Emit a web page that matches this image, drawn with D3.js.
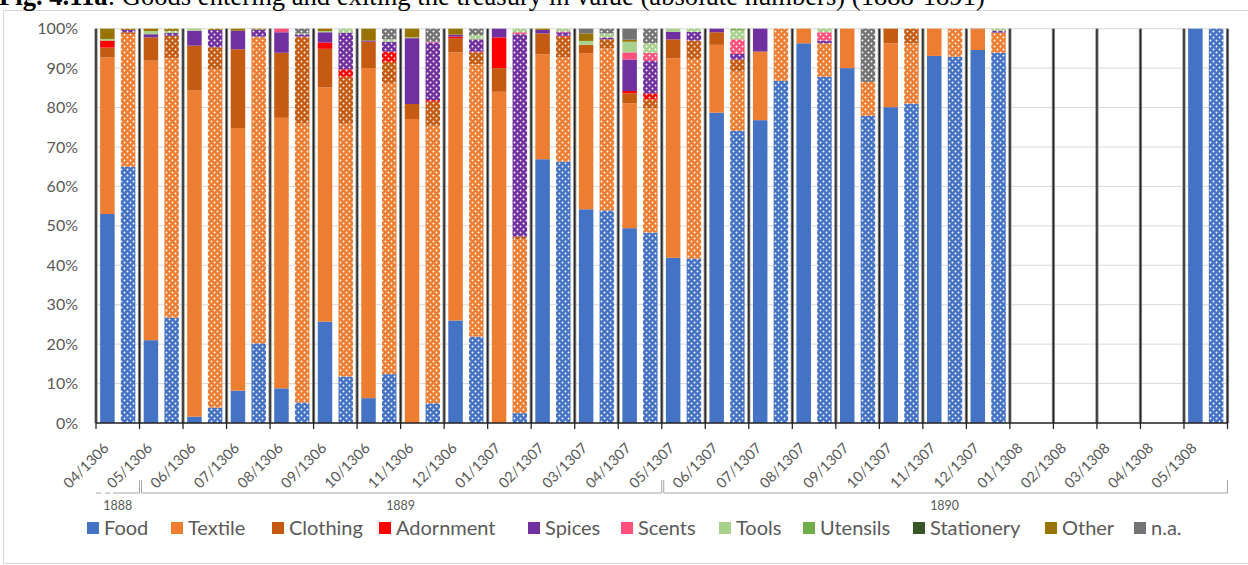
<!DOCTYPE html>
<html>
<head>
<meta charset="utf-8">
<script src="https://cdn.jsdelivr.net/npm/d3@7"></script>
<style>
  html, body { margin: 0; padding: 0; background: #fff; }
  svg { display: block; }
</style>
</head>
<body>
<div id="chart"></div>
<script>
// ---------------- DATA ----------------
const months = ["04/1306","05/1306","06/1306","07/1306","08/1306","09/1306","10/1306","11/1306","12/1306",
  "01/1307","02/1307","03/1307","04/1307","05/1307","06/1307","07/1307","08/1307","09/1307","10/1307","11/1307","12/1307",
  "01/1308","02/1308","03/1308","04/1308","05/1308"];
const kinds = ["entering", "exiting"];
const categories = ["Food","Textile","Clothing","Adornment","Spices","Scents","Tools","Utensils","Stationery","Other","n.a."];
const colors = ["#4472C4","#ED7D31","#C55A11","#FF0000","#7030A0","#FF4F7B","#A9D18E","#70AD47","#375623","#997300","#737373"];
const yTicks = [0,0.1,0.2,0.3,0.4,0.5,0.6,0.7,0.8,0.9,1];
const yearLabels = ["1888","1889","1890"];
const yearFrom = [0, 1, 13];
const yearTo = [1, 13, 26];

// [entering, exiting] share (%) per month
const food = [[53,65],[21,26.7],[1.6,3.9],[8.2,20.2],[8.8,5.2],[25.7,11.8],[6.3,12.4],[0,5],[26,21.9],[0,2.5],
  [66.9,66.3],[54.2,53.9],[49.4,48.3],[41.9,41.7],[78.7,74.1],[76.8,86.8],[96.3,87.8],[90,77.9],[80.1,81],[93.1,92.9],
  [94.6,93.9],[0,0],[0,0],[0,0],[0,0],[100,100]];
const textile = [[39.7,33.6],[70.9,65.8],[82.7,85.9],[66.6,77.6],[68.6,70.8],[59.4,64.1],[83.7,73.8],[77.1,70.4],[68,69.1],[84,44.1],
  [26.6,26.4],[39.6,41.1],[31.7,31.5],[50.6,50.5],[17.2,15],[17.4,13.2],[3.7,8.5],[10,8.6],[16.2,15.3],[6.9,7.1],
  [5.2,5.1],[0,0],[0,0],[0,0],[0,0],[0,0]];
const clothing = [[2.5,0.5],[5.9,5.7],[11.4,5.5],[20,0.2],[16.5,22],[9.8,11.9],[6.7,5.4],[3.8,6.1],[3.6,3],[6,0.7],
  [5.3,5.3],[2.1,2.3],[2.5,2.3],[4.8,4.8],[3.2,3.1],[0,0],[0,0],[0,0],[3.7,3.7],[0,0],
  [0.2,0],[0,0],[0,0],[0,0],[0,0],[0,0]];
const adornment = [[1.8,0],[0,0],[0,0],[0,0],[0,0],[1.6,1.9],[0,2.6],[0,0.4],[0.4,0.2],[7.8,0],
  [0,0.2],[0,0],[0.6,1.5],[0,0],[0,0],[0,0],[0,0],[0,0],[0,0],[0,0],
  [0,0],[0,0],[0,0],[0,0],[0,0],[0,0]];
const spices = [[0,0.6],[0.8,0.7],[3.8,4.4],[4.7,1.8],[5.2,0.6],[2.6,9.3],[0.3,2.5],[16.7,14.6],[0.5,3.1],[2.2,51.3],
  [0.9,0.9],[0,0.5],[8,8.2],[1.9,2.2],[0.9,1.4],[5.8,0],[0,0.7],[0,0],[0,0],[0,0],
  [0,0.5],[0,0],[0,0],[0,0],[0,0],[0,0]];
const scents = [[0,0],[0,0],[0,0],[0,0],[0.9,0],[0,0],[0,0],[0,0.2],[0,0],[0,0.5],
  [0,0.2],[0,0],[1.8,2.1],[0,0],[0,3.7],[0,0],[0,2.1],[0,0],[0,0],[0,0],
  [0,0],[0,0],[0,0],[0,0],[0,0],[0,0]];
const tools = [[0.4,0],[0.8,0.5],[0.5,0],[0,0],[0,0.2],[0.3,1.0],[0,0.6],[0.2,0],[0,1.1],[0,0.9],
  [0,0.7],[1.0,1.0],[2.7,2.4],[0.8,0.8],[0,2.2],[0,0],[0,0.9],[0,0],[0,0],[0,0],
  [0,0.5],[0,0],[0,0],[0,0],[0,0],[0,0]];
const utensils = [[0,0],[0,0],[0,0],[0,0],[0,0],[0,0],[0,0],[0,0],[0,0],[0,0],
  [0,0],[0,0],[0,0],[0,0],[0,0.5],[0,0],[0,0],[0,0],[0,0],[0,0],
  [0,0],[0,0],[0,0],[0,0],[0,0],[0,0]];
const stationery = [[0,0],[0,0],[0,0],[0,0],[0,0],[0,0],[0,0],[0,0],[0,0],[0,0],
  [0,0],[0,0],[0,0],[0,0],[0,0],[0,0],[0,0],[0,0],[0,0],[0,0],
  [0,0],[0,0],[0,0],[0,0],[0,0],[0,0]];
const other = [[2.6,0.3],[0.6,0.6],[0,0.3],[0.5,0.2],[0,0],[0.6,0],[3,0],[2.2,0],[1.5,0],[0,0],
  [0.3,0],[1.9,0],[0.5,0],[0,0],[0,0],[0,0],[0,0],[0,0],[0,0],[0,0],
  [0,0],[0,0],[0,0],[0,0],[0,0],[0,0]];
const na = [[0,0],[0,0],[0,0],[0,0],[0,1.2],[0,0],[0,2.7],[0,3.3],[0,1.6],[0,0],
  [0,0],[1.2,1.2],[2.8,3.7],[0,0],[0,0],[0,0],[0,0],[0,13.5],[0,0],[0,0],
  [0,0],[0,0],[0,0],[0,0],[0,0],[0,0]];
const seriesData = [food, textile, clothing, adornment, spices, scents, tools, utensils, stationery, other, na];

// ---------------- LAYOUT ----------------
const W = 1248, H = 565;
const plot = { left: 96, right: 1227.5, top: 28.7, bottom: 423 };
const legendX = [87, 171, 272, 379, 528, 621, 719, 803, 913, 1045, 1134];
const FONT = "Lato, 'Open Sans', 'Liberation Sans', sans-serif";
const TXT = "#595959";

const svg = d3.select("#chart").append("svg").attr("width", W).attr("height", H);
svg.append("rect").attr("width", W).attr("height", H).attr("fill", "#fff");

// frame
svg.append("path").attr("d", `M${W+2},10.5 H3.5 V563.5 H${W+2}`)
  .attr("fill", "none").attr("stroke", "#d6d6d6").attr("stroke-width", 1);

// title (cropped at top, as in the source page)
const title = svg.append("text").attr("x", -1).attr("y", 4.5)
  .attr("font-family", "'Liberation Serif', 'Times New Roman', serif").attr("font-size", 22).attr("fill", "#000");
title.append("tspan").attr("font-weight", "bold").text("Fig. 4.11a");
title.append("tspan").text(": Goods entering and exiting the treasury in value (absolute numbers) (1888-1891)");
{
  const w = title.node().getComputedTextLength();
  title.attr("font-size", 22 * 986 / w);
}

// patterns (white dots on the series colour for the exiting bars)
const defs = svg.append("defs");
colors.forEach((c, i) => {
  const p = defs.append("pattern").attr("id", "dots" + i).attr("patternUnits", "userSpaceOnUse")
    .attr("width", 6).attr("height", 6);
  p.append("rect").attr("width", 6).attr("height", 6).attr("fill", c);
  p.append("circle").attr("cx", 1.5).attr("cy", 1.5).attr("r", 0.95).attr("fill", "#fff");
  p.append("circle").attr("cx", 4.5).attr("cy", 4.5).attr("r", 0.95).attr("fill", "#fff");
});

// scales
const x = d3.scaleBand().domain(months).range([plot.left, plot.right]).padding(0);
const xIn = d3.scaleBand().domain(kinds).range([0, x.bandwidth()]).paddingInner(0.3).paddingOuter(0.2);
const y = d3.scaleLinear().domain([0, 1]).range([plot.bottom, plot.top]);

// gridlines
svg.append("g").selectAll("line").data(yTicks).join("line")
  .attr("x1", plot.left).attr("x2", plot.right)
  .attr("y1", d => y(d)).attr("y2", d => y(d))
  .attr("stroke", "#d9d9d9").attr("stroke-width", 1);

// y labels
svg.append("g").selectAll("text").data(yTicks).join("text")
  .attr("x", 78).attr("y", d => y(d)).attr("dy", "0.35em")
  .attr("text-anchor", "end").attr("font-family", FONT).attr("font-size", 16).attr("fill", TXT)
  .text(d => d3.format(".0%")(d));

// rows
const rows = [];
months.forEach((m, mi) => {
  kinds.forEach((k, ki) => {
    const r = { month: m, kind: k };
    categories.forEach((c, ci) => { r[c] = seriesData[ci][mi][ki]; });
    rows.push(r);
  });
});
const stacked = d3.stack().keys(categories).offset(d3.stackOffsetExpand)(rows);

const barsG = svg.append("g");
stacked.forEach((layer, li) => {
  barsG.append("g").selectAll("rect").data(layer).join("rect")
    .attr("x", d => x(d.data.month) + xIn(d.data.kind))
    .attr("width", xIn.bandwidth())
    .attr("y", d => y(d[1]))
    .attr("height", d => Math.max(0, y(d[0]) - y(d[1])))
    .attr("fill", d => d.data.kind === "entering" ? colors[li] : `url(#dots${li})`);
});

// month separators
const bounds = d3.range(months.length + 1).map(i => i < months.length ? x(months[i]) : plot.right);
const sep = svg.append("g");
sep.selectAll("line.halo").data(bounds).join("line").attr("class", "halo")
  .attr("x1", d => d).attr("x2", d => d).attr("y1", plot.top).attr("y2", plot.bottom)
  .attr("stroke", "#8c8c8c").attr("stroke-width", 3.2);
sep.selectAll("line.core").data(bounds).join("line").attr("class", "core")
  .attr("x1", d => d).attr("x2", d => d).attr("y1", plot.top).attr("y2", plot.bottom)
  .attr("stroke", "#262626").attr("stroke-width", 1.4);

// x axis
svg.append("line").attr("x1", plot.left).attr("x2", plot.right).attr("y1", plot.bottom).attr("y2", plot.bottom)
  .attr("stroke", "#262626").attr("stroke-width", 1.5);
svg.append("g").selectAll("line").data(bounds).join("line")
  .attr("x1", d => d).attr("x2", d => d).attr("y1", plot.bottom).attr("y2", plot.bottom + 6)
  .attr("stroke", "#262626").attr("stroke-width", 1.3);

// x labels
svg.append("g").selectAll("text").data(months).join("text")
  .attr("transform", d => `translate(${x(d) + x.bandwidth() / 2 - 8},${449}) rotate(-45)`)
  .attr("text-anchor", "end").attr("font-family", FONT).attr("font-size", 14.5).attr("fill", TXT)
  .text(d => d);

// year brackets
const br = svg.append("g").attr("stroke", "#a6a6a6").attr("stroke-width", 1).attr("fill", "none");
const bx = i => i < months.length ? x(months[i]) : plot.right;
yearLabels.forEach((lab, i) => {
  const x0 = bx(yearFrom[i]) + (i === 0 ? 0 : 2), x1 = bx(yearTo[i]);
  if (i === 0) {
    br.append("path").attr("d", `M${x0},493 H${x0 + 17}`).attr("stroke-dasharray", "5,4");
    br.append("path").attr("d", `M${x0 + 17},493 H${x1} V480`);
  } else {
    br.append("path").attr("d", `M${x0},480 V493 H${x1} V480`);
  }
  svg.append("text").attr("x", (bx(yearFrom[i]) + bx(yearTo[i])) / 2).attr("y", 506).attr("dy", "0.35em")
    .attr("text-anchor", "middle").attr("font-family", FONT).attr("font-size", 12.5).attr("fill", TXT).text(lab);
});

// legend
const lg = svg.append("g").selectAll("g").data(categories).join("g")
  .attr("transform", (d, i) => `translate(${legendX[i]},528)`);
lg.append("rect").attr("x", 0).attr("y", -6).attr("width", 12).attr("height", 12)
  .attr("fill", (d, i) => colors[i]);
lg.append("text").attr("x", 17).attr("y", 0).attr("dy", "0.35em")
  .attr("font-family", FONT).attr("font-size", 20).attr("fill", TXT).text(d => d);
</script>
</body>
</html>
